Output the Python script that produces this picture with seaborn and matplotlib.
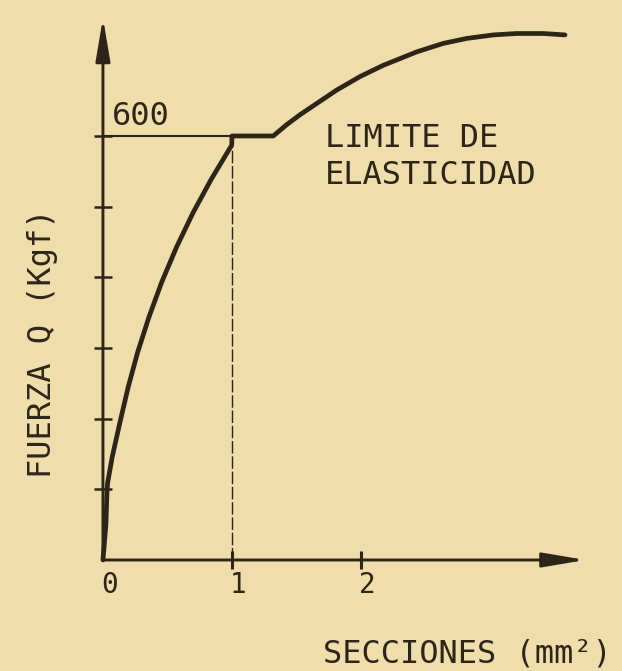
import matplotlib
matplotlib.use("Agg")
import matplotlib.pyplot as plt
import seaborn as sns
import pandas as pd

# Curve: force Q (kgf) against cross-section (mm^2)
elastic_x = [0.0, 0.023, 0.031, 0.036, 0.072, 0.132, 0.196, 0.269, 0.357,
             0.455, 0.571, 0.700, 0.837, 0.998, 1.0]
elastic_y = [0, 50, 95, 109, 146, 195, 245, 294, 344,
             393, 443, 492, 538, 587, 600]
plastic_x = [1.0, 1.32, 1.424, 1.527, 1.657, 1.812, 1.992, 2.173, 2.432, 2.638,
             2.819, 3.026, 3.207, 3.413, 3.581]
plastic_y = [600, 600, 616, 630, 646, 665, 684, 700, 719, 731,
             738, 743, 745, 745, 743]

elastic_limit_x = 1.0
elastic_limit_q = 600
x_ticks = [0, 1, 2]
x_tick_labels = ["0", "1", "2"]
y_ticks = [100, 200, 300, 400, 500, 600]
y_label_value = "600"
x_axis_end = 3.74
y_axis_end = 767

ink = "#2d2518"
paper = "#f0ddac"
lettering = "DejaVu Sans Mono"

sns.set_theme(style="white", rc={"axes.facecolor": paper, "figure.facecolor": paper})
plt.rcParams["font.family"] = [lettering, "DejaVu Sans"]

fig = plt.figure(figsize=(6.22, 6.71), dpi=100)
ax = fig.add_axes([0, 0, 1, 1])
ax.set_xlim(-0.798, 4.023)
ax.set_ylim(-157.1, 792.4)
ax.axis("off")

curve = pd.DataFrame({
    "seccion": elastic_x + plastic_x,
    "fuerza": elastic_y + plastic_y,
})
sns.lineplot(data=curve, x="seccion", y="fuerza", sort=False, estimator=None,
             color=ink, linewidth=3.4, ax=ax, solid_joinstyle="round",
             solid_capstyle="round")

# Axes with arrowheads
arrow = dict(arrowstyle="-|>,head_length=1.3,head_width=0.22", color=ink,
             lw=2.1, mutation_scale=20, shrinkA=0, shrinkB=0)
ax.annotate("", xy=(0, y_axis_end), xytext=(0, 0), arrowprops=arrow)
ax.annotate("", xy=(x_axis_end, 0), xytext=(0, 0), arrowprops=arrow)

# Tick marks
sns.scatterplot(x=[0] * len(y_ticks), y=y_ticks, marker="_", s=170,
                color=ink, linewidth=1.8, ax=ax)
sns.scatterplot(x=x_ticks[1:], y=[0] * (len(x_ticks) - 1), marker="|", s=150,
                color=ink, linewidth=2.2, ax=ax)

# Guide lines for the elastic limit
ax.plot([0, elastic_limit_x], [elastic_limit_q, elastic_limit_q], color=ink, lw=1.5)
ax.plot([elastic_limit_x, elastic_limit_x], [0, 587], color=ink, lw=1.0,
        linestyle=(0, (9, 2)))

# Lettering
for t, lab in zip(x_ticks, x_tick_labels):
    ax.text(t + 0.05, -36, lab, ha="center", va="center", fontsize=20, color=ink)
ax.text(0.07, 628, y_label_value, ha="left", va="center", fontsize=23, color=ink)
ax.text(1.72, 597, "LIMITE DE", ha="left", va="center", fontsize=23, color=ink)
ax.text(1.72, 544, "ELASTICIDAD", ha="left", va="center", fontsize=23, color=ink)
ax.text(1.705, -133, "SECCIONES (mm²)", ha="left", va="center",
        fontsize=23, color=ink)
ax.text(-0.47, 307, "FUERZA Q (Kgf)", ha="center", va="center", rotation=90,
        fontsize=23, color=ink)

fig.savefig("out.png", dpi=100, facecolor=paper)
